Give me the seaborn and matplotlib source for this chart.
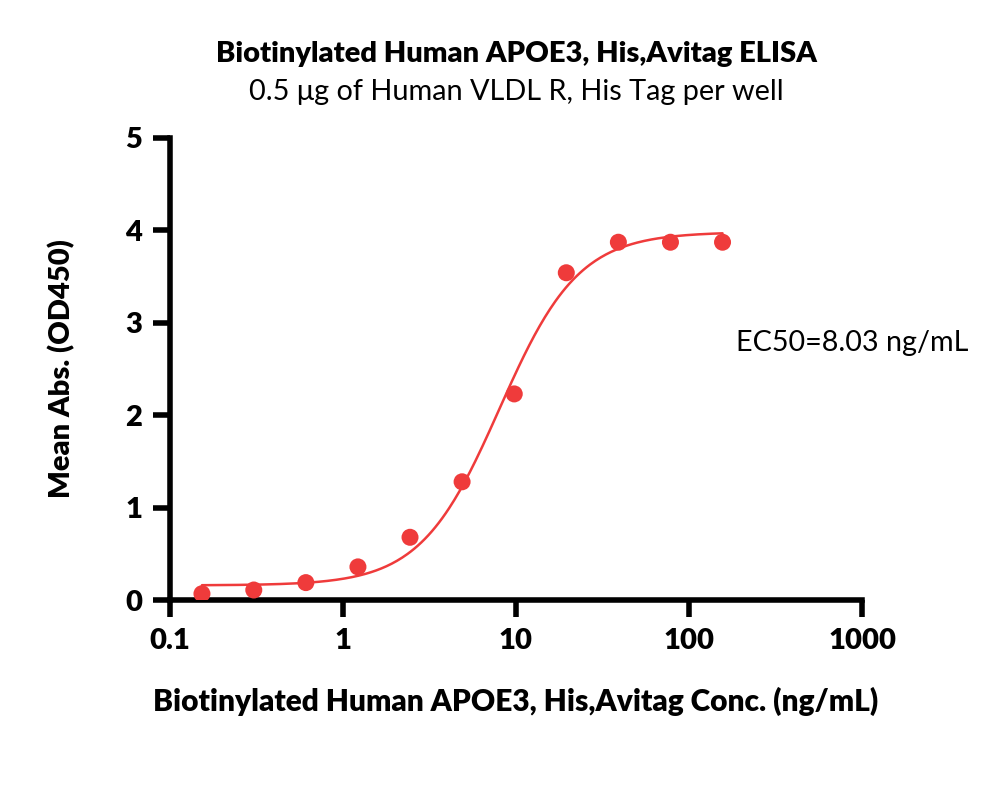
import numpy as np
import pandas as pd
import seaborn as sns
import matplotlib
matplotlib.use("Agg")
import matplotlib.pyplot as plt

# measured points (2-fold dilution series)
conc = [0.153, 0.305, 0.61, 1.22, 2.44, 4.88, 9.77, 19.53, 39.06, 78.13, 156.25]
od450 = [0.07, 0.11, 0.19, 0.36, 0.68, 1.28, 2.23, 3.54, 3.87, 3.87, 3.87]

# 4PL fit parameters
bottom, top, ec50, hill = 0.16, 3.98, 8.03, 1.9

x_ticks = [0.1, 1, 10, 100, 1000]
x_tick_labels = ["0.1", "1", "10", "100", "1000"]
y_ticks = [0, 1, 2, 3, 4, 5]

sns.set_style("ticks")
plt.rcParams['font.family'] = ['Lato', 'DejaVu Sans']
plt.rcParams['text.color'] = 'black'
plt.rcParams['axes.labelcolor'] = 'black'
plt.rcParams['xtick.color'] = 'black'
plt.rcParams['ytick.color'] = 'black'

red = "#ef3b3b"
df = pd.DataFrame({"conc": conc, "od": od450})

xs = np.logspace(np.log10(conc[0]), np.log10(conc[-1]), 300)
fit = pd.DataFrame({"conc": xs, "od": bottom + (top - bottom) / (1 + (ec50 / xs) ** hill)})

fig = plt.figure(figsize=(10, 7.96), dpi=100)
ax = fig.add_axes([0.170, 0.246, 0.692, 0.581])

sns.lineplot(data=fit, x="conc", y="od", ax=ax, color=red, linewidth=1.8)
sns.scatterplot(data=df, x="conc", y="od", ax=ax, color=red, s=150, edgecolor="none", zorder=3)

ax.set_xscale("log")
ax.set_xlim(0.1, 1000)
ax.set_ylim(0, 5)
ax.set_xticks(x_ticks)
ax.set_xticklabels(x_tick_labels)
ax.set_yticks(y_ticks)
ax.minorticks_off()
for lab in ax.get_xticklabels() + ax.get_yticklabels():
    lab.set_fontweight("heavy")
ax.tick_params(axis="both", which="major", labelsize=21, width=4, length=12, color="black", pad=8)
for side in ["left", "bottom"]:
    ax.spines[side].set_linewidth(4)
    ax.spines[side].set_color("black")
sns.despine(ax=ax)

ax.set_xlabel("Biotinylated Human APOE3, His,Avitag Conc. (ng/mL)", fontsize=21.5, fontweight="heavy", labelpad=24)
ax.set_ylabel("Mean Abs. (OD450)", fontsize=21, fontweight="heavy", labelpad=36)

fig.text(0.516, 0.932, "Biotinylated Human APOE3, His,Avitag ELISA", ha="center", va="center",
         fontsize=21, fontweight="heavy")
fig.text(0.516, 0.884, "0.5 \u03bcg of Human VLDL R, His Tag per well", ha="center", va="center", fontsize=20.8)
fig.text(0.736, 0.569, "EC50=8.03 ng/mL", ha="left", va="center", fontsize=20.7)

fig.savefig("out.png", dpi=100)
